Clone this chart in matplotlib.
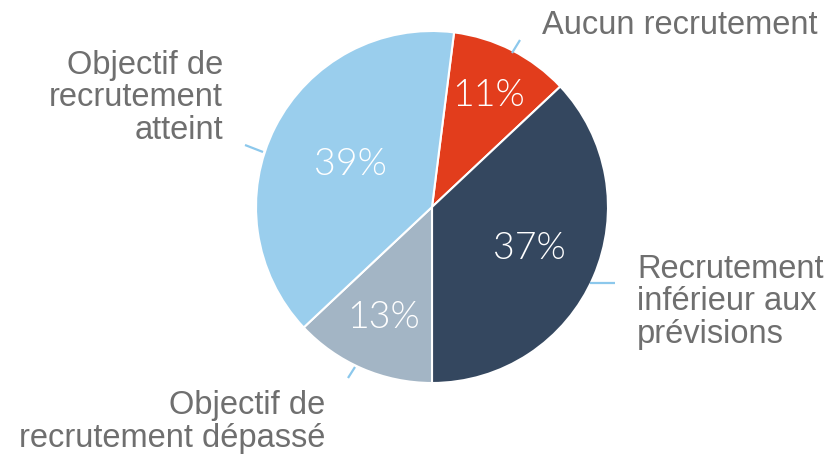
import numpy as np
import matplotlib
matplotlib.use("Agg")
import matplotlib.pyplot as plt

# Data
categories = ["Aucun recrutement", "Recrutement\ninférieur aux\nprévisions",
              "Objectif de\nrecrutement dépassé", "Objectif de\nrecrutement\natteint"]
values = [11, 37, 13, 39]
colors = ["#E23D1C", "#34475F", "#A3B5C5", "#9ACEED"]

W, H = 834, 459
fig = plt.figure(figsize=(W / 100, H / 100), dpi=100)
ax = fig.add_axes([0, 0, 1, 1])

cx, cy, R = 432, H - 207, 176
wedges, _, autotexts = ax.pie(values, colors=colors, startangle=82.8, counterclock=False,
                              center=(cx, cy), radius=R, autopct="%d%%", pctdistance=0.6,
                              wedgeprops=dict(edgecolor="white", linewidth=1.5),
                              textprops=dict(color="white", family="Lato", fontsize=27,
                                             fontweight=300),
                              frame=True)
ax.set_xlim(0, W)
ax.set_ylim(0, H)
ax.set_aspect("equal")
ax.axis("off")

# per-slice label distances
pct_dist = [0.71, 0.60, 0.69, 0.52]
for w, t, d in zip(wedges, autotexts, pct_dist):
    ang = np.deg2rad((w.theta1 + w.theta2) / 2)
    t.set_position((cx + d * R * np.cos(ang), cy + d * R * np.sin(ang)))
    t.set_ha("center")
    t.set_va("center")

grey = "#6f6f6f"
font = dict(family="Liberation Sans", fontsize=23.5, color=grey, linespacing=1.08)
# label positions (pixels from top-left)
ax.text(542, H - 26, categories[0], ha="left", va="center", **font)
ax.text(637, H - 302, categories[1], ha="left", va="center", **font)
ax.text(325, H - 422, categories[2], ha="right", va="center", **font)
ax.text(223, H - 98, categories[3], ha="right", va="center", **font)

line_c = "#8CC8EC"
leaders = [((512, 53), (520, 40)), ((590, 283), (615, 283)),
           ((348, 378), (355, 367)), ((245, 145), (263, 152))]
for (x0, y0), (x1, y1) in leaders:
    ax.plot([x0, x1], [H - y0, H - y1], color=line_c, lw=1.6, solid_capstyle="butt")

fig.savefig("out.png", dpi=100, facecolor="white")
